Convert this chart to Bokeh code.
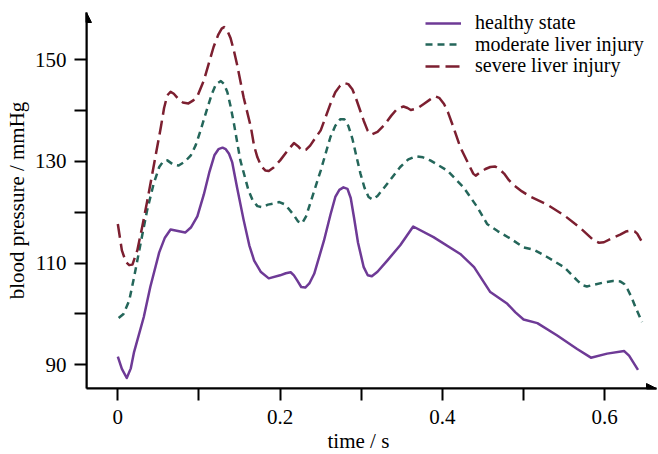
from bokeh.plotting import figure
from bokeh.models import Range1d, FixedTicker, Legend, LegendItem, Arrow, NormalHead, Title
from bokeh.embed import file_html
from bokeh.resources import INLINE

# ---- data ----
time_healthy = [0.000, 0.005, 0.011, 0.016, 0.020, 0.032, 0.040, 0.051, 0.058, 0.065,
                0.074, 0.083, 0.090, 0.098, 0.106, 0.113, 0.119, 0.124, 0.129, 0.133,
                0.137, 0.141, 0.147, 0.155, 0.162, 0.168, 0.176, 0.186, 0.200, 0.207,
                0.213, 0.217, 0.221, 0.226, 0.231, 0.236, 0.242, 0.254, 0.262, 0.268,
                0.273, 0.278, 0.283, 0.287, 0.291, 0.296, 0.303, 0.308, 0.313, 0.320,
                0.332, 0.348, 0.364, 0.389, 0.422, 0.439, 0.459, 0.480, 0.490, 0.500,
                0.517, 0.541, 0.566, 0.583, 0.603, 0.624, 0.630, 0.641]
bp_healthy = [91.6, 89.2, 87.4, 89.3, 92.5, 99.4, 105.3, 112.1, 115.0, 116.6,
              116.3, 116.0, 117.0, 119.2, 123.5, 128.0, 131.2, 132.4, 132.7, 132.4,
              131.5, 129.8, 124.8, 118.5, 113.5, 110.5, 108.3, 107.0, 107.6, 108.0,
              108.2, 107.6, 106.6, 105.3, 105.2, 106.0, 107.9, 114.4, 119.5, 123.0,
              124.4, 124.9, 124.6, 122.8, 119.0, 114.0, 109.2, 107.6, 107.4, 108.3,
              110.5, 113.5, 117.2, 115.1, 111.8, 109.2, 104.3, 102.0, 100.3, 98.9,
              98.2, 95.8, 93.1, 91.4, 92.2, 92.7, 91.8, 89.0]

time_moderate = [0.001, 0.007, 0.014, 0.020, 0.028, 0.036, 0.044, 0.051, 0.056, 0.061,
                 0.068, 0.075, 0.083, 0.090, 0.096, 0.102, 0.109, 0.116, 0.121, 0.127,
                 0.131, 0.135, 0.139, 0.143, 0.151, 0.161, 0.166, 0.172, 0.178, 0.185,
                 0.192, 0.199, 0.205, 0.211, 0.217, 0.222, 0.227, 0.232, 0.237, 0.250,
                 0.262, 0.268, 0.274, 0.279, 0.284, 0.289, 0.294, 0.299, 0.304, 0.309,
                 0.314, 0.320, 0.332, 0.348, 0.358, 0.367, 0.376, 0.385, 0.406, 0.426,
                 0.443, 0.455, 0.468, 0.484, 0.500, 0.513, 0.529, 0.550, 0.566, 0.572,
                 0.578, 0.588, 0.599, 0.610, 0.619, 0.624, 0.628, 0.633, 0.638, 0.646]
bp_moderate = [99.2, 100.0, 102.6, 107.2, 113.8, 120.3, 125.5, 128.9, 130.0, 130.2,
               129.4, 129.2, 130.0, 131.2, 133.2, 136.1, 139.8, 143.3, 145.2, 145.8,
               145.2, 143.6, 140.8, 137.5, 130.2, 124.3, 122.4, 121.2, 121.0, 121.5,
               121.7, 122.0, 121.6, 120.6, 119.4, 118.2, 117.8, 119.2, 121.7, 128.2,
               134.8, 137.0, 138.3, 138.3, 137.0, 134.5, 131.0, 127.6, 124.8, 123.0,
               122.5, 123.2, 125.6, 128.9, 130.4, 131.0, 130.8, 130.2, 128.2, 124.9,
               121.0, 117.7, 116.3, 114.8, 113.1, 112.6, 111.2, 109.2, 106.6, 105.7,
               105.4, 105.8, 106.2, 106.5, 106.4, 105.9, 104.9, 103.3, 101.3, 98.4]

time_severe = [0.000, 0.005, 0.010, 0.014, 0.018, 0.024, 0.030, 0.036, 0.044, 0.053,
               0.057, 0.061, 0.065, 0.069, 0.074, 0.080, 0.087, 0.093, 0.098, 0.106,
               0.118, 0.124, 0.128, 0.131, 0.135, 0.139, 0.143, 0.147, 0.155, 0.164,
               0.168, 0.172, 0.177, 0.182, 0.186, 0.192, 0.200, 0.210, 0.217, 0.222,
               0.227, 0.232, 0.237, 0.243, 0.250, 0.262, 0.268, 0.274, 0.279, 0.284,
               0.289, 0.293, 0.298, 0.303, 0.308, 0.313, 0.320, 0.328, 0.337, 0.344,
               0.352, 0.357, 0.361, 0.369, 0.377, 0.385, 0.391, 0.396, 0.402, 0.407,
               0.412, 0.422, 0.433, 0.438, 0.441, 0.447, 0.453, 0.459, 0.465, 0.470,
               0.476, 0.482, 0.488, 0.498, 0.509, 0.529, 0.550, 0.570, 0.587, 0.593,
               0.599, 0.609, 0.619, 0.626, 0.632, 0.637, 0.640, 0.645]
bp_severe = [117.7, 112.5, 110.2, 109.6, 109.7, 112.5, 117.1, 122.0, 128.9, 136.7,
             140.5, 143.0, 143.7, 143.3, 142.4, 141.6, 141.4, 142.0, 142.8, 145.9,
             152.5, 155.0, 156.1, 156.4, 155.7, 154.2, 151.8, 149.0, 142.6, 136.7,
             133.0, 130.8, 129.0, 128.2, 128.1, 128.8, 130.2, 132.3, 133.6, 133.0,
             132.1, 132.3, 133.1, 134.5, 136.1, 141.3, 143.6, 144.9, 145.4, 145.2,
             144.2, 142.6, 140.3, 138.0, 136.0, 135.3, 135.8, 137.1, 139.0, 140.3,
             140.8, 140.5, 140.1, 140.4, 141.3, 142.2, 142.8, 142.5, 141.3, 139.6,
             137.4, 132.8, 129.2, 127.6, 127.2, 127.9, 128.5, 128.9, 129.0, 128.5,
             127.6, 126.3, 125.3, 124.1, 123.0, 121.5, 119.4, 116.9, 114.4, 114.0,
             114.1, 114.9, 115.6, 116.2, 116.4, 116.2, 115.8, 114.4]

series_names = ["healthy state", "moderate liver injury", "severe liver injury"]

x_ticks = [0, 0.1, 0.2, 0.3, 0.4, 0.5, 0.6]
x_tick_labels = ["0", "", "0.2", "", "0.4", "", "0.6"]
y_ticks = [90, 100, 110, 120, 130, 140, 150]
y_tick_labels = ["90", "", "110", "", "130", "", "150"]

x_label = "time / s"
y_label = "blood pressure / mmHg"

# ---- styles ----
FONT = "Liberation Serif"
FS = "21px"
LEG_FS = "20px"
x_min, x_max = -0.0386, 0.6638
y_min, y_max = 85.34, 159.28

p = figure(width=658, height=454, output_backend="svg", toolbar_location=None,
           x_range=Range1d(x_min, x_max), y_range=Range1d(y_min, y_max),
           min_border_left=86, min_border_right=2, min_border_top=12,
           min_border_bottom=66)
p.outline_line_color = None
p.grid.visible = False
p.background_fill_color = "white"
p.border_fill_color = "white"

r1 = p.line(time_healthy, bp_healthy, line_color="#6E3A96", line_width=2.5,
            line_join="round")
r2 = p.line(time_moderate, bp_moderate, line_color="#24665A", line_width=2.5,
            line_dash="7 5", line_join="round")
r3 = p.line(time_severe, bp_severe, line_color="#7C1F30", line_width=2.5,
            line_dash="14 6", line_join="round")

for ax, ticks, labels in ((p.xaxis[0], x_ticks, x_tick_labels),
                          (p.yaxis[0], y_ticks, y_tick_labels)):
    ax.ticker = FixedTicker(ticks=ticks)
    ax.major_label_overrides = {t: l for t, l in zip(ticks, labels)}
    ax.minor_tick_line_color = None
    ax.major_tick_in = 0
    ax.major_tick_out = 12
    ax.major_tick_line_width = 2
    ax.major_tick_line_color = "black"
    ax.axis_line_width = 2
    ax.axis_line_color = "black"
    ax.major_label_text_font = FONT
    ax.major_label_text_font_size = FS
    ax.major_label_text_color = "black"
    ax.axis_label_text_font = FONT
    ax.axis_label_text_font_size = FS
    ax.axis_label_text_font_style = "normal"
    ax.axis_label_text_color = "black"

p.yaxis.axis_label = y_label
p.xaxis.major_label_standoff = 9
p.yaxis.major_label_standoff = 8
p.yaxis.axis_label_standoff = 3

# x axis title, a little left of the frame centre as in the reference
p.add_layout(Title(text=x_label, align="left", offset=241, standoff=0,
                   text_font=FONT, text_font_size=FS, text_font_style="normal",
                   text_color="black"), "below")

# axis arrows
p.add_layout(Arrow(end=NormalHead(size=10, fill_color="black", line_color="black"),
                   x_start=x_min, y_start=y_min, x_end=x_min, y_end=y_max,
                   line_width=2, line_color="black"))
p.add_layout(Arrow(end=NormalHead(size=10, fill_color="black", line_color="black"),
                   x_start=x_min, y_start=y_min, x_end=x_max, y_end=y_min,
                   line_width=2, line_color="black"))

# one legend per entry so the rows can sit as tightly as in the reference
legend_offsets = [354, 332.5, 311]   # legend bottom above frame bottom, px
for n, r, oy in zip(series_names, [r1, r2, r3], legend_offsets):
    lg = Legend(items=[LegendItem(label=n, renderers=[r])],
                location=(339, oy), border_line_color=None,
                background_fill_alpha=0, label_text_font=FONT,
                label_text_font_size=LEG_FS, label_text_color="black",
                glyph_width=36, glyph_height=18, label_height=18,
                spacing=0, padding=0, margin=0, label_standoff=14)
    p.add_layout(lg)

open("out.html", "w").write(file_html(p, INLINE))
